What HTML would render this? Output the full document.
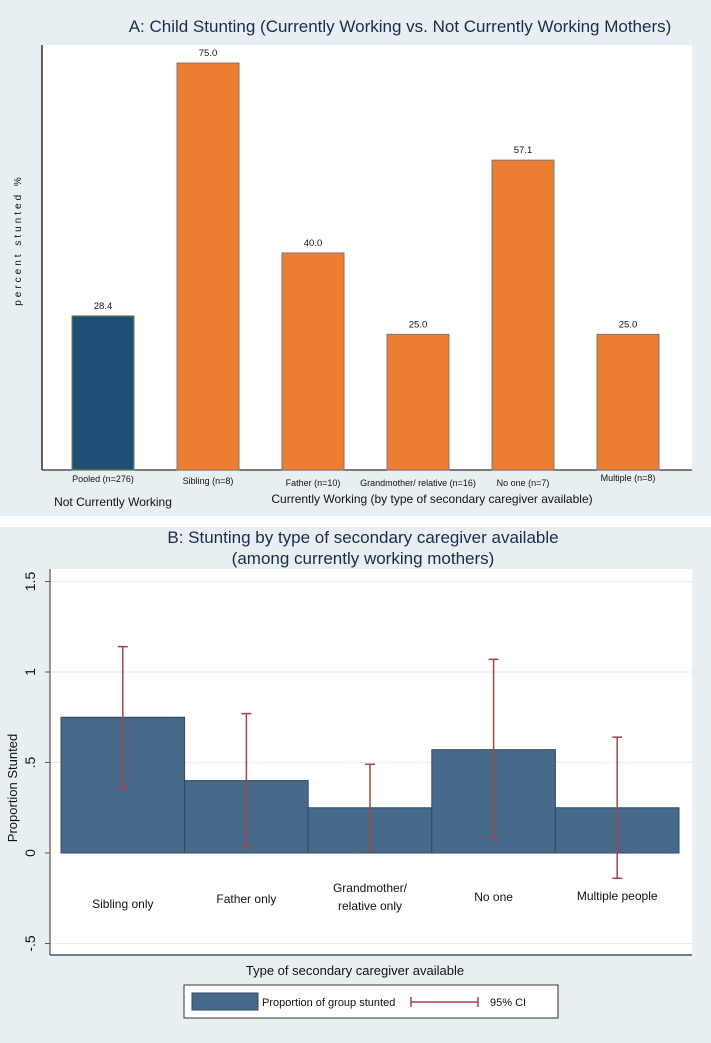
<!DOCTYPE html>
<html><head><meta charset="utf-8"><style>
body{margin:0;background:#fff;}
svg{display:block;font-family:"Liberation Sans",sans-serif;}
</style></head><body>
<svg id="chart" width="711" height="1043" viewBox="0 0 711 1043">
<rect x="0" y="0" width="711" height="516" fill="#e8eff2"/>
<rect x="0" y="527" width="711" height="516" fill="#e8eff2"/>
<text x="400" y="32" font-size="17" fill="#1a2b4c" text-anchor="middle">A: Child Stunting (Currently Working vs. Not Currently Working Mothers)</text>
<rect x="42" y="45" width="650" height="425" fill="#fff"/>
<line x1="42" y1="45" x2="42" y2="470" stroke="#000" stroke-width="1.2"/>
<line x1="42" y1="470" x2="692" y2="470" stroke="#333" stroke-width="1.2"/>
<text transform="translate(21,240) rotate(-90)" font-size="10" letter-spacing="3" text-anchor="middle" fill="#111">percent stunted %</text>
<g id="ga"></g>
<text x="113" y="506" font-size="12" text-anchor="middle" fill="#111">Not Currently Working</text>
<text x="432" y="503" font-size="12" text-anchor="middle" fill="#111">Currently Working (by type of secondary caregiver available)</text>

<text x="363" y="543" font-size="17" fill="#1a2b4c" text-anchor="middle">B: Stunting by type of secondary caregiver available</text>
<text x="363" y="564" font-size="17" fill="#1a2b4c" text-anchor="middle">(among currently working mothers)</text>
<rect x="50" y="569" width="642" height="386" fill="#fff"/>
<g id="gb"></g>
<line x1="50" y1="569" x2="50" y2="955" stroke="#555" stroke-width="1.2"/>
<line x1="50" y1="955" x2="692" y2="955" stroke="#333" stroke-width="1.2"/>
<text transform="translate(17,788) rotate(-90)" font-size="13" text-anchor="middle" fill="#111">Proportion Stunted</text>
<text x="355" y="975" font-size="13" text-anchor="middle" fill="#111">Type of secondary caregiver available</text>
<g>
<rect x="184" y="985" width="374" height="33" fill="#fff" stroke="#333" stroke-width="1"/>
<rect x="192" y="993" width="66" height="17" fill="#476a8a" stroke="#2f4a66"/>
<text x="262" y="1006" font-size="11" fill="#111">Proportion of group stunted</text>
<line x1="411" y1="1002" x2="478" y2="1002" stroke="#a0454c" stroke-width="1.5"/>
<line x1="411" y1="997" x2="411" y2="1007" stroke="#a0454c" stroke-width="1.5"/>
<line x1="478" y1="997" x2="478" y2="1007" stroke="#a0454c" stroke-width="1.5"/>
<text x="490" y="1006" font-size="11" fill="#111">95% CI</text>
</g>
</svg>
<script>
const aCats=["Pooled (n=276)","Sibling (n=8)","Father (n=10)","Grandmother/ relative (n=16)","No one (n=7)","Multiple (n=8)"];
const aVals=[28.4,75.0,40.0,25.0,57.1,25.0];
const aLabels=["28.4","75.0","40.0","25.0","57.1","25.0"];
const bCats=[["Sibling only"],["Father only"],["Grandmother/","relative only"],["No one"],["Multiple people"]];
const bVals=[0.75,0.40,0.25,0.571,0.25];
const bLo=[0.36,0.03,0.01,0.08,-0.14];
const bHi=[1.14,0.77,0.49,1.07,0.64];
const bTicks=[-0.5,0,0.5,1,1.5];
const bTickLabels=["-.5","0",".5","1","1.5"];
const NS="http://www.w3.org/2000/svg";
function mk(t,a,p){const e=document.createElementNS(NS,t);for(const k in a)e.setAttribute(k,a[k]);p.appendChild(e);return e;}
// Panel A
const ga=document.getElementById('ga');
const ay=v=>470-v*(470-63)/75;
const ax=i=>103+i*105;
const aLabY=[482,484,486,486,486,481];
aVals.forEach((v,i)=>{
 const r=mk('rect',{x:ax(i)-31,y:ay(v),width:62,height:470-ay(v),fill:i==0?'#1f4e79':'#ed7d31',stroke:i==0?'#6b8e3a':'#7a7a7a','stroke-width':1},ga);
 
 
 const t=mk('text',{x:ax(i),y:ay(v)-7,'font-size':9.5,'text-anchor':'middle',fill:'#111'},ga);t.textContent=aLabels[i];
 
 
 const c=mk('text',{x:ax(i),y:aLabY[i],'font-size':9,'text-anchor':'middle',fill:'#111'},ga);c.textContent=aCats[i];
 
 
});
// Panel B
const gb=document.getElementById('gb');
const by=v=>853-v*181;
const bw=123.6, bx=i=>61+i*bw;
bTicks.forEach((v,i)=>{
 if(v!==0){const g=mk('line',{x1:51,x2:692,y1:by(v),y2:by(v),stroke:'#e3edf2','stroke-width':1},gb);
 
 }
 mk('line',{x1:45,x2:50,y1:by(v),y2:by(v),stroke:'#555'},gb);
 const t=mk('text',{transform:`translate(35,${by(v)}) rotate(-90)`,'font-size':14,'text-anchor':'middle',fill:'#111'},gb);t.textContent=bTickLabels[i];
 
 
});
const bLabY=[908,903,892,901,900];
bVals.forEach((v,i)=>{
 const r=mk('rect',{x:bx(i),y:by(v),width:bw,height:by(0)-by(v),fill:'#476a8a',stroke:'#2f4a66','stroke-width':1},gb);
 
 
 const cx=bx(i)+bw/2;
 const ci=mk('line',{x1:cx,x2:cx,y1:by(bLo[i]),y2:by(bHi[i]),stroke:'#a0454c','stroke-width':1.5},gb);
 
 
 mk('line',{x1:cx-5,x2:cx+5,y1:by(bLo[i]),y2:by(bLo[i]),stroke:'#a0454c','stroke-width':1.5},gb);
 mk('line',{x1:cx-5,x2:cx+5,y1:by(bHi[i]),y2:by(bHi[i]),stroke:'#a0454c','stroke-width':1.5},gb);
 bCats[i].forEach((s,j)=>{
  const t=mk('text',{x:cx,y:bLabY[i]+j*18,'font-size':12,'text-anchor':'middle',fill:'#111'},gb);t.textContent=s;
  
  
 });
});
</script>
</body></html>
